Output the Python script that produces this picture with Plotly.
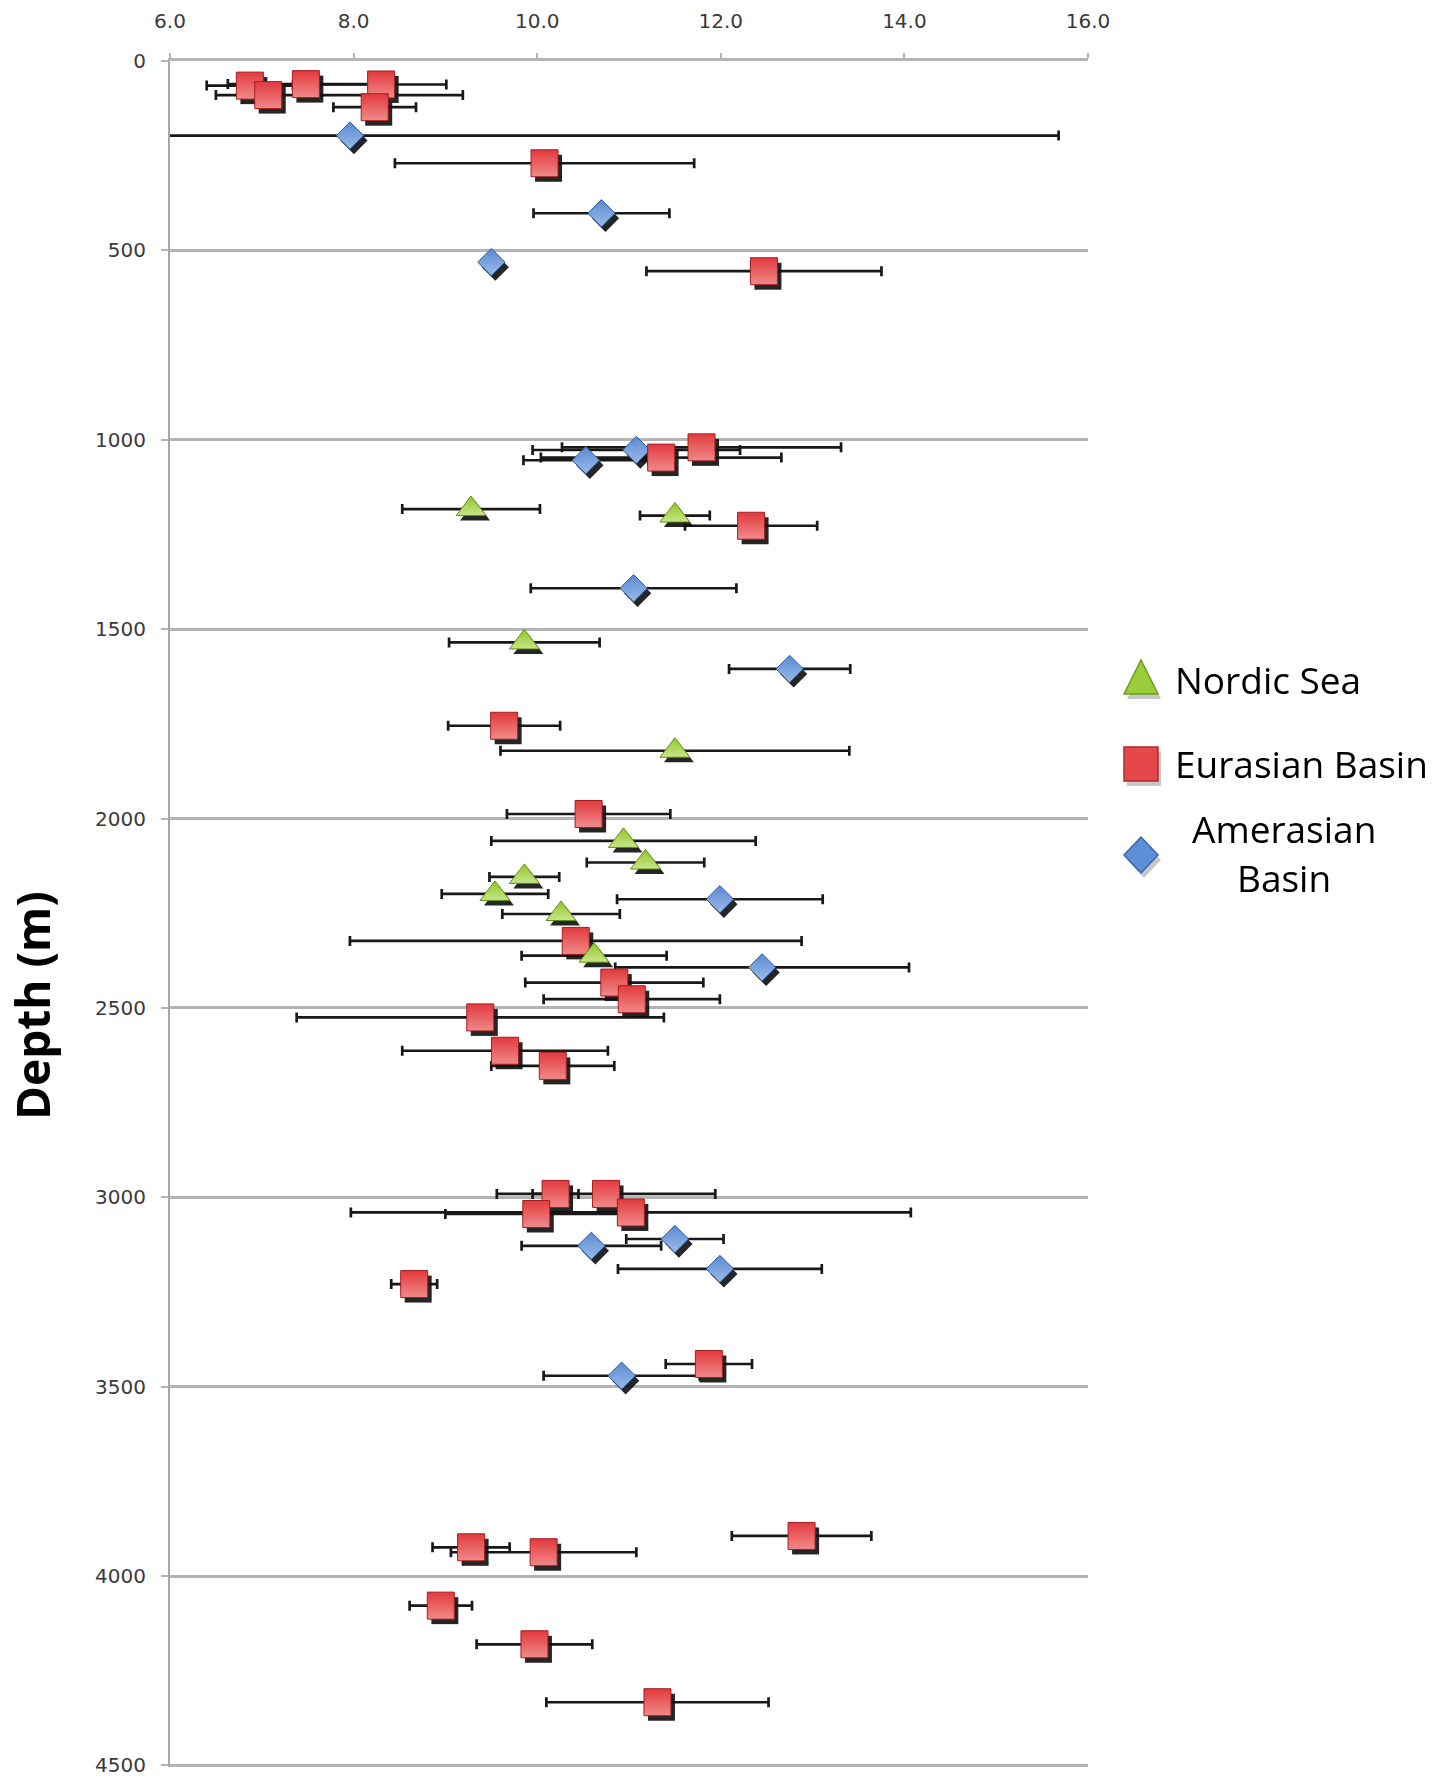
import plotly.graph_objects as go

# ---------------- data ----------------
# Eurasian Basin (red squares)
eur_value = [6.87, 7.48, 8.30, 7.07, 8.23, 10.08, 12.47, 11.79, 11.35, 12.33,
             9.64, 10.56, 10.42, 10.84, 11.03, 9.38, 9.65, 10.17, 10.20, 10.75,
             9.99, 11.02, 8.66, 11.87, 12.88, 9.28, 10.07, 8.95, 9.97, 11.31]
eur_depth = [65, 61, 62, 90, 122, 270, 555, 1020, 1047, 1227,
             1755, 1988, 2323, 2433, 2477, 2525, 2613, 2653, 2991, 2991,
             3044, 3040, 3229, 3440, 3894, 3924, 3937, 4078, 4180, 4333]
eur_err_plus = [0.47, 0.85, 0.71, 2.12, 0.45, 1.63, 1.28, 1.52, 1.31, 0.72,
                0.61, 0.89, 2.46, 0.97, 0.96, 2.00, 1.12, 0.67, 0.25, 1.19,
                0.99, 3.05, 0.25, 0.47, 0.76, 0.42, 1.01, 0.34, 0.63, 1.21]
eur_err_minus = [0.47, 0.85, 0.71, 0.57, 0.45, 1.63, 1.28, 1.52, 1.31, 0.72,
                 0.61, 0.89, 2.46, 0.97, 0.96, 2.00, 1.12, 0.67, 0.25, 1.19,
                 0.99, 3.05, 0.25, 0.47, 0.76, 0.42, 1.01, 0.34, 0.63, 1.21]

# Nordic Sea (green triangles)
nor_value = [9.28, 11.50, 9.86, 11.50, 10.94, 11.18, 9.86, 9.54, 10.26, 10.62]
nor_depth = [1183, 1200, 1535, 1821, 2059, 2116, 2154, 2199, 2252, 2362]
nor_err = [0.75, 0.38, 0.82, 1.90, 1.44, 0.64, 0.38, 0.58, 0.64, 0.79]

# Amerasian Basin (blue diamonds)
ame_value = [7.96, 10.70, 9.50, 11.08, 10.53, 11.05, 12.75, 11.99, 12.45,
             11.50, 10.59, 11.99, 10.92]
ame_depth = [197, 402, 531, 1027, 1054, 1392, 1605, 2213, 2393,
             3110, 3128, 3189, 3471]
ame_err = [7.72, 0.74, 0.0, 1.13, 0.68, 1.12, 0.66, 1.12, 1.60,
           0.53, 0.76, 1.11, 0.85]

x_ticks = [6, 8, 10, 12, 14, 16]
y_ticks = [0, 500, 1000, 1500, 2000, 2500, 3000, 3500, 4000, 4500]
x_range = [6, 16]
y_range = [4504, 0]

legend_labels = ["Nordic Sea", "Eurasian Basin", "Amerasian", "Basin"]
y_title = "Depth (m)"

# ---------------- layout geometry ----------------
W, H = 1445, 1781
L, R, T, B = 170, 353, 61, 9
SHX, SHY = 4, 5          # drop-shadow offset in pixels
pw = W - L - R
ph = H - T - B
main_xdom = [0, (pw - SHX) / pw]
shadow_xdom = [SHX / pw, 1]
main_ydom = [SHY / ph, 1]
shadow_ydom = [0, (ph - SHY) / ph]

series = [
    dict(name="Amerasian Basin", x=ame_value, y=ame_depth, ep=ame_err, em=ame_err,
         symbol="diamond", size=21, color="#5a8ad2", line="#2f5a9e", grad="#9bbbe8"),
    dict(name="Eurasian Basin", x=eur_value, y=eur_depth, ep=eur_err_plus, em=eur_err_minus,
         symbol="square", size=27, color="#e2393d", line="#a61d20", grad="#f08a8a"),
    dict(name="Nordic Sea", x=nor_value, y=nor_depth, ep=nor_err, em=nor_err,
         symbol="triangle-up", size=26, color="#8fc427", line="#5f8f12", grad="#c8e68a"),
]

fig = go.Figure()

# error bars (bottom layer, main axes)
for s in series:
    fig.add_trace(go.Scatter(
        x=s["x"], y=s["y"], mode="markers", xaxis="x", yaxis="y",
        marker=dict(size=2, color="rgba(0,0,0,0)"),
        error_x=dict(type="data", symmetric=False, array=s["ep"], arrayminus=s["em"],
                     color="#181818", thickness=2.7, width=5),
        showlegend=False, hoverinfo="skip"))

# drop shadows (shifted axes)
for s in series:
    fig.add_trace(go.Scatter(
        x=s["x"], y=s["y"], mode="markers", xaxis="x2", yaxis="y2",
        marker=dict(symbol=s["symbol"], size=s["size"], color="#121212",
                    line=dict(width=0)),
        opacity=0.92, showlegend=False, hoverinfo="skip"))

# markers
for s in series:
    fig.add_trace(go.Scatter(
        x=s["x"], y=s["y"], mode="markers", xaxis="x3", yaxis="y3", name=s["name"],
        marker=dict(symbol=s["symbol"], size=s["size"], color=s["color"],
                    gradient=dict(type="vertical", color=s["grad"]),
                    line=dict(width=1, color=s["line"])),
        showlegend=False))

hidden = dict(visible=False, showgrid=False, zeroline=False, fixedrange=True,
              automargin=False)

fig.update_layout(
    width=W, height=H, autosize=False,
    margin=dict(l=L, r=R, t=T, b=B, pad=0, autoexpand=False),
    paper_bgcolor="white", plot_bgcolor="rgba(0,0,0,0)",
    showlegend=False,
    xaxis=dict(domain=main_xdom, range=x_range, side="top", anchor="y",
               tickvals=x_ticks, tickformat=".1f", automargin=False,
               showgrid=False, zeroline=False,
               showline=True, linecolor="#b4b4b4", linewidth=3,
               ticks="outside", ticklen=5, tickwidth=2, tickcolor="#b4b4b4",
               ticklabelstandoff=17,
               tickfont=dict(family="DejaVu Sans", size=20, color="#3a3a3a")),
    yaxis=dict(domain=main_ydom, range=y_range, anchor="x",
               tickvals=y_ticks, automargin=False,
               showgrid=True, gridcolor="#b4b4b4", gridwidth=3,
               zeroline=False,
               showline=True, linecolor="#a8a8a8", linewidth=2,
               ticks="outside", ticklen=7, tickwidth=2, tickcolor="#b4b4b4",
               ticklabelstandoff=11,
               tickfont=dict(family="DejaVu Sans", size=20, color="#3a3a3a")),
    xaxis2=dict(domain=shadow_xdom, range=x_range, anchor="y2", **hidden),
    yaxis2=dict(domain=shadow_ydom, range=y_range, anchor="x2", **hidden),
    xaxis3=dict(domain=main_xdom, range=x_range, anchor="y3", **hidden),
    yaxis3=dict(domain=main_ydom, range=y_range, anchor="x3", **hidden),
)


def px(xp):
    return (xp - L) / pw


def py(yp):
    return 1 - (yp - T) / ph


# y-axis title
fig.add_annotation(text="<b>%s</b>" % y_title, xref="paper", yref="paper",
                   x=px(32), y=py(1006), textangle=-90, showarrow=False,
                   xanchor="center", yanchor="middle",
                   font=dict(family="Open Sans", size=46, color="black"))

# legend keys
keys = [
    ("M -17,-16 L 17,-16 L 0,18 Z", 678, "#9bcc3c", "#6f9e1e"),
    ("M -17,-17 L 17,-17 L 17,17 L -17,17 Z", 764, "#e4484b", "#b0292c"),
    ("M 0,-18 L 17,0 L 0,18 L -17,0 Z", 855, "#5d8fd6", "#3966ad"),
]
for path, cy, fill, edge in keys:
    fig.add_shape(type="path", xref="paper", yref="paper",
                  xsizemode="pixel", ysizemode="pixel",
                  xanchor=px(1144), yanchor=py(cy + 5), path=path,
                  fillcolor="rgba(0,0,0,0.22)", line=dict(width=0))
    fig.add_shape(type="path", xref="paper", yref="paper",
                  xsizemode="pixel", ysizemode="pixel",
                  xanchor=px(1141), yanchor=py(cy), path=path,
                  fillcolor=fill, line=dict(color=edge, width=1.5))

lf = dict(family="Open Sans", size=37, color="black")
fig.add_annotation(text=legend_labels[0], xref="paper", yref="paper", x=px(1173), y=py(679),
                   xanchor="left", yanchor="middle", showarrow=False, font=lf)
fig.add_annotation(text=legend_labels[1], xref="paper", yref="paper", x=px(1173), y=py(763),
                   xanchor="left", yanchor="middle", showarrow=False, font=lf)
fig.add_annotation(text=legend_labels[2], xref="paper", yref="paper", x=px(1284), y=py(828),
                   xanchor="center", yanchor="middle", showarrow=False, font=lf)
fig.add_annotation(text=legend_labels[3], xref="paper", yref="paper", x=px(1284), y=py(877),
                   xanchor="center", yanchor="middle", showarrow=False, font=lf)

fig.write_html("out.html")
